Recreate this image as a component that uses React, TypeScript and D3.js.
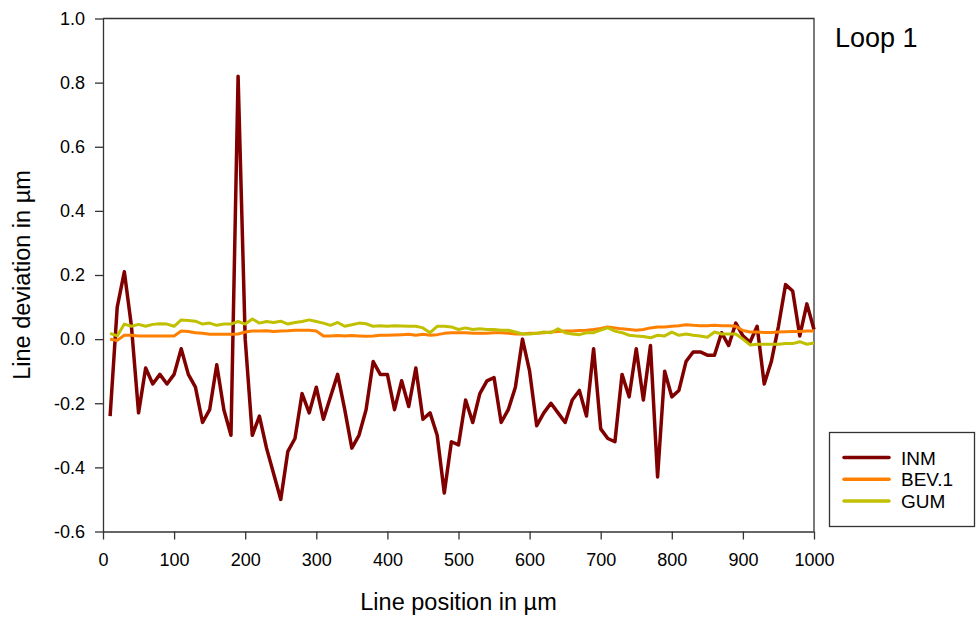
import React, { useEffect, useRef } from 'react';
import * as d3 from "d3";

// positions along the line, 10 µm steps
const positions = d3.range(10, 1001, 10);

const inm = [
    -0.24, 0.10, 0.21, 0.04, -0.23, -0.09, -0.14, -0.11, -0.14, -0.11,
    -0.03, -0.11, -0.15, -0.26, -0.22, -0.08, -0.22, -0.30, 0.82, 0.00,
    -0.30, -0.24, -0.34, -0.42, -0.50, -0.35, -0.31, -0.17, -0.23, -0.15,
    -0.25, -0.18, -0.11, -0.22, -0.34, -0.30, -0.22, -0.07, -0.11, -0.11,
    -0.22, -0.13, -0.21, -0.09, -0.25, -0.23, -0.30, -0.48, -0.32, -0.33,
    -0.19, -0.26, -0.17, -0.13, -0.12, -0.26, -0.22, -0.15, 0.00, -0.10,
    -0.27, -0.23, -0.20, -0.23, -0.26, -0.19, -0.16, -0.24, -0.03, -0.28,
    -0.31, -0.32, -0.11, -0.18, -0.03, -0.19, -0.02, -0.43, -0.10, -0.18,
    -0.16, -0.07, -0.04, -0.04, -0.05, -0.05, 0.02, -0.02, 0.05, 0.01,
    -0.01, 0.04, -0.14, -0.07, 0.04, 0.17, 0.15, 0.01, 0.11, 0.03
];

const bev1 = [
    0.000, -0.004, 0.012, 0.012, 0.010, 0.010, 0.010, 0.010, 0.010, 0.010,
    0.025, 0.024, 0.020, 0.018, 0.015, 0.015, 0.015, 0.015, 0.016, 0.022,
    0.025, 0.025, 0.026, 0.024, 0.025, 0.026, 0.028, 0.028, 0.028, 0.025,
    0.010, 0.010, 0.011, 0.010, 0.011, 0.010, 0.009, 0.010, 0.012, 0.012,
    0.013, 0.014, 0.015, 0.012, 0.015, 0.012, 0.014, 0.018, 0.020, 0.020,
    0.020, 0.018, 0.018, 0.018, 0.020, 0.020, 0.018, 0.016, 0.016, 0.018,
    0.018, 0.020, 0.022, 0.024, 0.025, 0.025, 0.027, 0.028, 0.030, 0.033,
    0.038, 0.035, 0.032, 0.030, 0.028, 0.030, 0.035, 0.038, 0.038, 0.040,
    0.042, 0.045, 0.043, 0.042, 0.042, 0.043, 0.042, 0.042, 0.040, 0.027,
    0.022, 0.022, 0.021, 0.021, 0.022, 0.023, 0.024, 0.024, 0.025, 0.025
];

const gum = [
    0.018, 0.010, 0.047, 0.040, 0.046, 0.040, 0.046, 0.048, 0.047, 0.040,
    0.060, 0.058, 0.056, 0.047, 0.050, 0.043, 0.047, 0.047, 0.055, 0.047,
    0.063, 0.050, 0.055, 0.052, 0.056, 0.047, 0.052, 0.055, 0.060, 0.055,
    0.050, 0.043, 0.052, 0.040, 0.045, 0.050, 0.048, 0.040, 0.042, 0.040,
    0.042, 0.041, 0.040, 0.040, 0.035, 0.020, 0.040, 0.040, 0.038, 0.030,
    0.035, 0.030, 0.032, 0.030, 0.030, 0.028, 0.028, 0.022, 0.016, 0.016,
    0.018, 0.022, 0.020, 0.032, 0.020, 0.016, 0.014, 0.020, 0.020, 0.028,
    0.035, 0.025, 0.020, 0.012, 0.010, 0.008, 0.004, 0.012, 0.010, 0.022,
    0.012, 0.016, 0.012, 0.010, 0.006, 0.022, 0.016, 0.016, 0.016, 0.000,
    -0.018, -0.016, -0.016, -0.016, -0.016, -0.014, -0.014, -0.008, -0.016, -0.012
];

const seriesNames = ["INM", "BEV.1", "GUM"];
const seriesColors = ["#800000", "#ff8000", "#c0c000"];
const seriesWidths = [3.5, 3, 3];

const xTicks = d3.range(0, 1001, 100);
const yTicks = [-0.6, -0.4, -0.2, 0.0, 0.2, 0.4, 0.6, 0.8, 1.0];

const font = "'Liberation Sans', Arial, sans-serif";

export default function App() {
    const ref = useRef<SVGSVGElement>(null);

    useEffect(() => {
        const svg = d3.select(ref.current);
        svg.selectAll("*").remove();

        const left = 103, right = 814, top = 18.5, bottom = 531.5;

        const x = d3.scaleLinear().domain([0, 1000]).range([left, right]);
        const y = d3.scaleLinear().domain([-0.6, 1.0]).range([bottom, top]);

        const axisColor = "#333";

        // frame top + right
        svg.append("path")
            .attr("d", `M${left},${top}H${right}V${bottom}`)
            .attr("fill", "none")
            .attr("stroke", axisColor)
            .attr("stroke-width", 1.3);

        // lines
        const all = [inm, bev1, gum];
        all.forEach((vals, k) => {
            svg.append("path")
                .datum(vals)
                .attr("fill", "none")
                .attr("stroke", seriesColors[k])
                .attr("stroke-width", seriesWidths[k])
                .attr("stroke-linejoin", "round")
                .attr("d", d3.line<number>()
                    .x((d, i) => x(positions[i]))
                    .y((d) => y(d))
                );
        });

        // y axis
        const yAxis = svg.append("g")
            .attr("transform", `translate(${left},0)`)
            .call(d3.axisLeft(y)
                .tickValues(yTicks)
                .tickFormat((d) => (+d).toFixed(1))
                .tickSize(8)
                .tickSizeOuter(0)
                .tickPadding(10));

        // x axis
        const xAxis = svg.append("g")
            .attr("transform", `translate(0,${bottom})`)
            .call(d3.axisBottom(x)
                .tickValues(xTicks)
                .tickFormat(d3.format("d"))
                .tickSize(8)
                .tickSizeOuter(0)
                .tickPadding(14));

        [yAxis, xAxis].forEach((g) => {
            g.attr("font-family", font).attr("font-size", 18);
            g.selectAll("path, line").attr("stroke", axisColor).attr("stroke-width", 1.3);
            g.selectAll("text").attr("fill", "#000");
        });

        // axis titles
        svg.append("text")
            .attr("x", (left + right) / 2)
            .attr("y", 610)
            .attr("text-anchor", "middle")
            .attr("font-family", font)
            .attr("font-size", 23.5)
            .text("Line position in µm");

        svg.append("text")
            .attr("transform", `translate(30,${(top + bottom) / 2}) rotate(-90)`)
            .attr("text-anchor", "middle")
            .attr("font-family", font)
            .attr("font-size", 23.5)
            .text("Line deviation in µm");

        svg.append("text")
            .attr("x", 835)
            .attr("y", 47)
            .attr("font-family", font)
            .attr("font-size", 27)
            .text("Loop 1");

        // legend
        const legend = svg.append("g");
        legend.append("rect")
            .attr("x", 829.5).attr("y", 432.5)
            .attr("width", 145).attr("height", 94)
            .attr("fill", "#fff")
            .attr("stroke", axisColor)
            .attr("stroke-width", 1.3);

        seriesNames.forEach((name, k) => {
            const ly = 457.5 + k * 21.7;
            legend.append("line")
                .attr("x1", 844).attr("x2", 889)
                .attr("y1", ly).attr("y2", ly)
                .attr("stroke", seriesColors[k])
                .attr("stroke-width", 3.5)
                .attr("stroke-linecap", "round");
            legend.append("text")
                .attr("x", 901)
                .attr("y", ly + 7)
                .attr("font-family", font)
                .attr("font-size", 19)
                .text(name);
        });

    }, []);

    return (
        <svg ref={ref} width={976} height={619}
            style={{ position: "absolute", left: 0, top: 0, background: "#fff" }}></svg>
    );
}
